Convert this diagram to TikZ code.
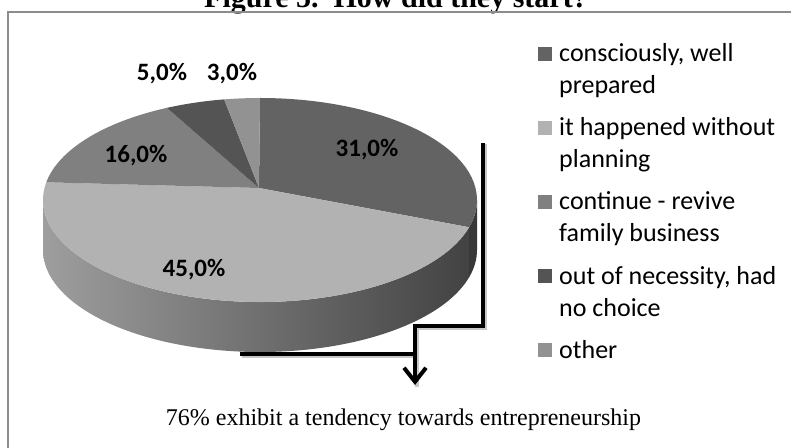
\documentclass[tikz,border=0pt]{standalone}
\usepackage{fontspec}
\setmainfont{Liberation Serif}
\newfontfamily\calibri{Carlito}
\usetikzlibrary{arrows.meta,calc}
\definecolor{cA}{HTML}{636363}
\definecolor{cB}{HTML}{B2B2B2}
\definecolor{cC}{HTML}{808080}
\definecolor{cD}{HTML}{545454}
\definecolor{cE}{HTML}{929292}
\definecolor{frameC}{HTML}{8C8C8C}
\begin{document}
\begin{tikzpicture}[x=1pt,y=1pt,
  ea/.style={x radius=217pt, y radius=102pt},
  pct/.style={font=\calibri\bfseries\fontsize{25}{30}\selectfont, inner sep=0pt, anchor=base},
  legtext/.style={font=\calibri\fontsize{26}{32}\selectfont, inner sep=0pt, anchor=base west, align=left},
  legbox/.style={minimum size=14pt, inner sep=0pt, anchor=south west},
  bracket/.style={line width=4pt, black},
  shadowline/.style={line width=4pt, black!22, transform canvas={shift={(1.5pt,-1.5pt)}}},
  tipstyle/.style={-{Straight Barb[length=14pt,width=22pt]}},
]
\useasboundingbox (0,0) rectangle (791,447);
\clip (0,0) rectangle (791,447);
\fill[white] (0,0) rectangle (791,447);
% title (clipped at the top, as in the reference)
\node[font=\bfseries\fontsize{30}{36}\selectfont, anchor=base, inner sep=0pt] (title) at (396,439) {Figure 5.~~How did they start?};
% frame
\draw[frameC, line width=2pt] (8,-10) -- (8,435) -- (800,435);
% pie geometry
\coordinate (C) at (260,247);
\coordinate (A) at (259,259);
% sides
\shade[left color=black!38, right color=black!74]
  ([shift={(C)}]180:217pt and 102pt) arc[ea,start angle=180,end angle=344.5]
  -- ++(0,-50) arc[ea,start angle=344.5,end angle=180] -- cycle;
\fill[black!78]
  ([shift={(C)}]344.5:217pt and 102pt) arc[ea,start angle=344.5,end angle=360]
  -- ++(0,-50) arc[ea,start angle=360,end angle=344.5] -- cycle;
% top slices
\fill[cA] (A) -- ([shift={(C)}]90:217pt and 102pt) arc[ea,start angle=90,end angle=-15.5] -- cycle;
\fill[cB] (A) -- ([shift={(C)}]-15.5:217pt and 102pt) arc[ea,start angle=-15.5,end angle=-190] -- cycle;
\fill[cC] (A) -- ([shift={(C)}]170:217pt and 102pt) arc[ea,start angle=170,end angle=115.4] -- cycle;
\fill[cD] (A) -- ([shift={(C)}]115.4:217pt and 102pt) arc[ea,start angle=115.4,end angle=99.5] -- cycle;
\fill[cE] (A) -- ([shift={(C)}]99.5:217pt and 102pt) arc[ea,start angle=99.5,end angle=90] -- cycle;
% slice labels
\node[pct] (l31) at (367,290) {31,0\%};
\node[pct] (l45) at (194,170) {45,0\%};
\node[pct] (l16) at (136,284) {16,0\%};
\node[pct] (l5) at (162,366) {5,0\%};
\node[pct] (l3) at (232,366) {3,0\%};
% legend (two-line nodes are placed by the baseline of their last line)
\node[legbox, fill=cA] (k1) at (538,386) {};
\node[legtext] (t1) at (559,353) {consciously, well\\prepared};
\node[legbox, fill=cB] (k2) at (538,312) {};
\node[legtext] (t2) at (559,279) {it happened without\\planning};
\node[legbox, fill=cC] (k3) at (538,238) {};
\node[legtext] (t3) at (559,205) {continue - revive\\family business};
\node[legbox, fill=cD] (k4) at (538,164) {};
\node[legtext] (t4) at (559,131) {out of necessity, had\\no choice};
\node[legbox, fill=cE] (k5) at (538,90) {};
\node[legtext] (t5) at (559,89) {other};
% note and bracket
\node[anchor=base, font=\fontsize{24}{28}\selectfont, inner sep=0pt] (note) at (403.5,22) {76\% exhibit a tendency towards entrepreneurship};
\coordinate (r1) at (483,304);
\coordinate (j1) at (415,121);
\coordinate (j2) at (415,93);
\coordinate (h0) at (240,93);
\coordinate (tip) at (415,62);
\draw[shadowline] (r1) |- (j1) -- (tip);
\draw[shadowline] (h0) -- (j2);
\draw[bracket, tipstyle] (r1) |- (j1) -- (tip);
\draw[bracket] (h0) -- (j2);
\end{tikzpicture}
\end{document}
